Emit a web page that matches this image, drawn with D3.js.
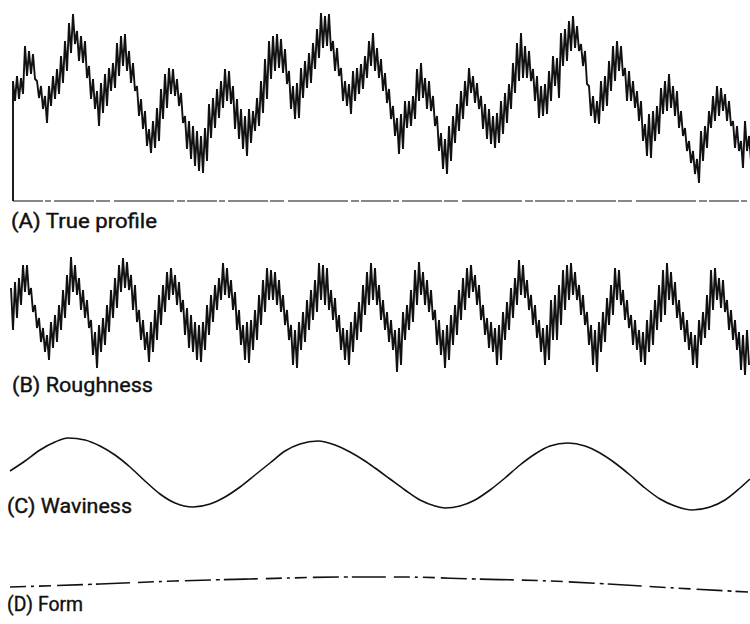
<!DOCTYPE html>
<html>
<head>
<meta charset="utf-8">
<script src="https://cdn.jsdelivr.net/npm/d3@7/dist/d3.min.js"></script>
<style>
  html, body { margin: 0; padding: 0; background: #fff; }
  svg { display: block; }
  .lbl { font-family: Roboto, "DejaVu Sans", sans-serif; font-size: 20px; font-weight: 400; fill: #111; stroke: #111; stroke-width: 0.4px; }
</style>
</head>
<body>
<svg id="chart" width="750" height="624"></svg>
<script>
// Surface profile decomposition: measured heights (µm) along the trace (mm).

const panelLabels = ["(A) True profile", "(B) Roughness", "(C) Waviness", "(D) Form"];

// Sampling of the stylus traces (mm)
const sampleStep = 0.02;
const trueProfileStart = 0.03;
const roughnessStart = 0.01;

// (A) True profile heights above the datum, alternating crest / valley samples
const trueProfile = [
  120,100, 125,102, 123,107, 155,125, 150,127, 147,122, 120,103, 115,92, 105,78, 115,95,
  125,102, 132,107, 145,118, 160,130, 178,148, 187,157, 170,140, 165,138, 160,123, 135,102,
  122,92, 110,75, 118,88, 127,95, 133,110, 138,113, 158,125, 165,135, 167,130, 150,118,
  138,110, 115,85, 102,72, 90,55, 72,48, 80,53, 93,60, 112,82, 127,93, 133,107,
  132,105, 122,95, 108,78, 85,52, 80,42, 75,35, 70,30, 65,28, 73,40, 97,63,
  103,73, 112,83, 120,93, 132,100, 130,97, 115,72, 102,62, 92,52, 85,45, 92,58,
  90,70, 103,75, 120,88, 142,102, 160,122, 165,130, 167,133, 162,128, 152,117, 130,92,
  115,82, 118,83, 133,103, 140,113, 148,118, 158,132, 172,143, 188,153, 185,155, 187,150,
  160,130, 153,125, 133,100, 120,95, 117,87, 130,100, 133,107, 137,112, 145,123, 160,135,
  168,130, 153,123, 142,110, 128,98, 112,82, 95,65, 83,47, 87,52, 100,73, 100,75,
  105,82, 132,100, 138,103, 123,92, 120,90, 105,75, 85,50, 68,32, 62,27, 75,40,
  85,58, 97,70, 110,82, 120,95, 133,108, 125,98, 118,92, 105,72, 97,62, 92,57,
  85,53, 88,58, 100,67, 108,78, 117,92, 138,108, 158,120, 168,123, 155,123, 150,120,
  132,100, 125,83, 115,85, 117,87, 130,100, 145,115, 143,103, 168,135, 172,140, 180,150,
  185,153, 175,150, 157,135, 150,117, 115,85, 105,78, 100,77, 120,90, 125,95, 140,110,
  155,120, 160,130, 155,125, 133,100, 130,100, 120,93, 110,80, 100,60, 77,45, 87,43,
  90,60, 95,67, 113,87, 120,90, 127,93, 115,85, 110,73, 90,65, 73,50, 60,38,
  50,27, 42,18, 70,40, 75,53, 90,73, 105,80, 115,85, 113,90, 107,80, 100,75,
  80,53, 75,50, 60,33, 80,50, 65,40
];

// (B) Roughness about the mean line
const roughness = [
  27,-15, 33,-3, 37,10, 50,23, 50,20, 27,3, 10,-13, -3,-27, -13,-37, -20,-45,
  -7,-33, 0,-27, 10,-15, 25,-3, 40,10, 58,23, 50,20, 37,5, 25,-3, 15,-13,
  -5,-40, -17,-53, -10,-37, -3,-30, 10,-17, 25,-3, 37,7, 50,23, 57,27, 53,25,
  40,5, 30,-7, 5,-25, -5,-35, -17,-47, -7,-37, 5,-25, 20,-10, 30,3, 43,15,
  47,20, 40,10, 33,3, 15,-20, 7,-33, 0,-37, -7,-45, -10,-47, -7,-35, 10,-20,
  20,-7, 30,5, 37,15, 52,20, 47,17, 35,5, 23,-15, 5,-30, -10,-45, -7,-48,
  -5,-35, 5,-25, 20,-10, 35,3, 47,15, 45,15, 43,10, 35,3, 20,-10, 5,-25,
  -10,-50, -15,-53, -7,-35, 3,-27, 15,-15, 25,-5, 35,3, 52,15, 50,10, 47,5,
  25,-5, 17,-17, 0,-35, -13,-45, -15,-50, -7,-37, 3,-25, 13,-17, 30,0, 43,10,
  52,15, 47,10, 30,-5, 15,-15, 3,-27, -5,-35, -15,-57, -13,-50, 3,-25, 10,-15,
  25,-7, 45,10, 53,20, 43,10, 35,3, 25,-5, 5,-30, -5,-40, -15,-53, -10,-45,
  0,-30, 10,-20, 25,-5, 37,5, 47,17, 50,23, 40,10, 30,-5, 10,-20, -3,-33,
  -7,-37, -13,-50, -10,-45, 3,-25, 13,-15, 27,-3, 37,10, 55,20, 50,17, 35,5,
  20,-10, 10,-23, -5,-37, -13,-50, -10,-45, 15,-25, 20,-25, 30,-10, 45,5, 50,15,
  52,20, 43,15, 30,0, 20,-10, 3,-30, -10,-50, -15,-57, -7,-37, 3,-27, 17,-10,
  30,0, 47,15, 45,10, 25,-5, 15,-13, 0,-30, -5,-35, -15,-47, -17,-50, -5,-37,
  5,-30, 15,-15, 30,-7, 45,0, 52,15, 43,10, 33,-3, 15,-15, 3,-27, -5,-35,
  -17,-50, -20,-53, -5,-30, 3,-23, 20,-15, 45,5, 47,15, 37,7, 35,3, 15,-15,
  5,-25, -5,-35, -17,-55, -20,-60, -15,-50
];

// (C) Waviness
const wavinessPos = [0.00,0.15,0.30,0.45,0.58,0.75,0.90,1.05,1.20,1.35,1.50,1.65,1.83,2.00,2.15,2.30,2.45,2.60,2.75,2.90,
  3.08,3.25,3.40,3.55,3.65,3.80,3.95,4.10,4.25,4.35,4.50,4.65,4.80,4.95,5.10,5.25,5.40,5.58,5.75,5.90,
  6.05,6.20,6.35,6.50,6.65,6.82,7.00,7.15,7.30,7.40];
const wavinessVal = [4,14,25,33,37,35,29,20,8,-6,-19,-28,-32,-29,-22,-12,0,12,24,31,
  34,30,23,14,7,-4,-15,-25,-31,-33,-31,-25,-15,-3,10,21,29,32,29,22,
  12,0,-13,-24,-31,-35,-32,-25,-13,-4];

// (D) Form
const formPos = [0.00, 0.90, 1.65, 2.40, 3.40, 3.90, 4.65, 5.40, 5.98, 6.65, 7.38];
const formVal = [-5, -2, 1, 3, 5, 5, 3, 1, -2, -6, -10];

const svg = d3.select("#chart");

const x = d3.scaleLinear().domain([0, 7.4]).range([10, 750]);
const yA = d3.scaleLinear().domain([0, 200]).range([201, 1]);
const yB = d3.scaleLinear().domain([-60, 60]).range([375, 255]);
const yC = d3.scaleLinear().domain([-35, 35]).range([510, 440]);
const yD = d3.scaleLinear().domain([-10, 10]).range([592, 572]);

const ink = "#111";

// Datum line under the true profile
svg.append("line")
  .attr("x1", x(trueProfileStart)).attr("x2", x(7.4))
  .attr("y1", yA(0)).attr("y2", yA(0))
  .attr("stroke", ink).attr("stroke-width", 1.2)
  .attr("stroke-dasharray", "30,2,6,3,40,2,14,4,60,3,8,2");

// True profile: trace rises from the datum at its start
const aPts = [[trueProfileStart, 0]].concat(
  trueProfile.map((v, i) => [trueProfileStart + i * sampleStep, v]));
svg.append("path")
  .datum(aPts)
  .attr("fill", "none").attr("stroke", ink).attr("stroke-width", 1.9)
  .attr("stroke-linejoin", "bevel")
  .attr("d", d3.line().x(d => x(d[0])).y(d => yA(d[1])));

// Roughness
const bPts = roughness.map((v, i) => [roughnessStart + i * sampleStep, v]);
svg.append("path")
  .datum(bPts)
  .attr("fill", "none").attr("stroke", ink).attr("stroke-width", 1.9)
  .attr("stroke-linejoin", "bevel")
  .attr("d", d3.line().x(d => x(d[0])).y(d => yB(d[1])));

// Waviness
svg.append("path")
  .datum(wavinessPos.map((p, i) => [p, wavinessVal[i]]))
  .attr("fill", "none").attr("stroke", ink).attr("stroke-width", 1.6)
  .attr("d", d3.line().curve(d3.curveMonotoneX).x(d => x(d[0])).y(d => yC(d[1])));

// Form
svg.append("path")
  .datum(formPos.map((p, i) => [p, formVal[i]]))
  .attr("fill", "none").attr("stroke", ink).attr("stroke-width", 1.6)
  .attr("stroke-dasharray", "16,5,3,5,12,6,26,5,4,4,34,8")
  .attr("d", d3.line().curve(d3.curveMonotoneX).x(d => x(d[0])).y(d => yD(d[1])));

// Panel captions
const labelLayout = [
  { x: 11, y: 228, w: 146 },
  { x: 12, y: 392, w: 141 },
  { x: 7,  y: 513, w: 125 },
  { x: 7,  y: 611, w: 76 }
];
svg.selectAll("text.lbl")
  .data(panelLabels)
  .join("text")
  .attr("class", "lbl")
  .attr("x", (d, i) => labelLayout[i].x)
  .attr("y", (d, i) => labelLayout[i].y)
  .attr("textLength", (d, i) => labelLayout[i].w)
  .attr("lengthAdjust", "spacingAndGlyphs")
  .text(d => d);
</script>
</body>
</html>
